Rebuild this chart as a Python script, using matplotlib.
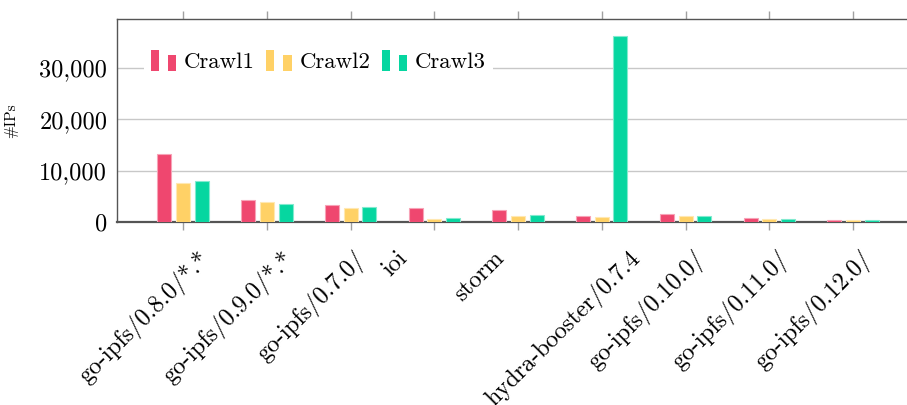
import numpy as np
import matplotlib
matplotlib.use("Agg")
import matplotlib.pyplot as plt
from matplotlib.patches import Rectangle
from matplotlib.legend_handler import HandlerBase
from matplotlib.ticker import FuncFormatter
from matplotlib.transforms import ScaledTranslation

# Data
agents = ["go-ipfs/0.8.0/*.*", "go-ipfs/0.9.0/*.*", "go-ipfs/0.7.0/", "ioi", "storm",
          "hydra-booster/0.7.4", "go-ipfs/0.10.0/", "go-ipfs/0.11.0/", "go-ipfs/0.12.0/"]
crawl1 = [13300, 4200, 3250, 2700, 2400, 1100, 1500, 720, 400]
crawl2 = [7600, 3800, 2800, 650, 1250, 1000, 1250, 530, 330]
crawl3 = [8000, 3600, 2900, 850, 1300, 36200, 1250, 530, 330]
series_names = ["Crawl1", "Crawl2", "Crawl3"]

colors = ["#ef476f", "#ffd166", "#06d6a0"]
edges = ["#f7a3b7", "#ffe8b2", "#82eacf"]

plt.rcParams["font.family"] = ["cmr10", "DejaVu Serif"]
plt.rcParams["axes.formatter.use_mathtext"] = True
plt.rcParams["mathtext.fontset"] = "cm"

fig = plt.figure(figsize=(9.07, 4.05), dpi=100)
ax = fig.add_axes([117 / 907, 1 - 222 / 405, 790 / 907, 203.5 / 405])

x = np.arange(len(agents))
w = 0.167
step = 0.223
for i, vals in enumerate([crawl1, crawl2, crawl3]):
    ax.bar(x + (i - 1) * step, vals, width=w, color=colors[i], edgecolor=edges[i],
           linewidth=0.8, zorder=3, label=series_names[i])

ax.set_xlim(-0.79, 8.645)
ax.set_ylim(0, 39600)
ax.set_yticks([0, 10000, 20000, 30000])
ax.yaxis.set_major_formatter(FuncFormatter(lambda v, p: f"{v:,.0f}"))
ax.grid(axis="y", color="#c8c8c8", lw=1, zorder=0)
ax.set_axisbelow(True)

ax.set_xticks(x)
ax.set_xticklabels(agents, rotation=45, ha="center", va="top")
ax.tick_params(axis="x", which="major", direction="out", length=6, width=1, color="#a0a0a0",
               top=True, labelsize=17.5, pad=12)
ax.tick_params(axis="y", length=0, labelsize=17.5, pad=7)

off = ScaledTranslation(-39 / 100, 0, fig.dpi_scale_trans)
for lab in ax.get_xticklabels():
    lab.set_transform(lab.get_transform() + off)

for s in ["left", "top"]:
    ax.spines[s].set_color("#555555")
    ax.spines[s].set_linewidth(1)
ax.spines["bottom"].set_color("#555555")
ax.spines["bottom"].set_linewidth(1.6)
ax.spines["right"].set_visible(False)

ax.set_ylabel("#IPs", fontsize=11)
ax.yaxis.set_label_coords(-0.125, 0.5)


class TwoBars(HandlerBase):
    def create_artists(self, legend, orig_handle, xdescent, ydescent, width, height, fontsize, trans):
        c = orig_handle.get_facecolor()
        bw = width * 0.32
        h = height * 1.3
        y0 = -ydescent - 0.2 * height
        r1 = Rectangle((-xdescent, y0), bw, h, facecolor=c, lw=0, transform=trans)
        r2 = Rectangle((-xdescent + width - bw, y0), bw, h * 0.75,
                       facecolor=c, lw=0, transform=trans)
        return [r1, r2]


handles, labels = ax.get_legend_handles_labels()
handles = [h.patches[0] for h in handles]
leg = ax.legend(handles, labels, loc="upper left", bbox_to_anchor=(0.034, 0.87), ncol=3,
                frameon=True, fontsize=16.5, handlelength=1.1, handletextpad=0.35,
                columnspacing=0.5, borderpad=0.3, borderaxespad=0,
                handler_map={Rectangle: TwoBars()})
leg.get_frame().set_edgecolor("none")
leg.get_frame().set_facecolor("white")
leg.get_frame().set_alpha(1)
leg.set_zorder(5)

fig.savefig("out.png", dpi=100)
